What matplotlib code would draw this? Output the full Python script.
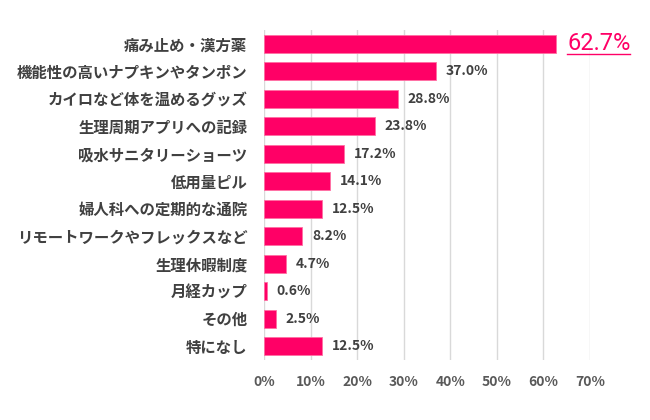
import matplotlib
matplotlib.use("Agg")
import matplotlib.pyplot as plt
from matplotlib.lines import Line2D

plt.rcParams['font.family'] = ['Noto Sans CJK JP', 'DejaVu Sans']

categories = ["痛み止め・漢方薬", "機能性の高いナプキンやタンポン", "カイロなど体を温めるグッズ",
              "生理周期アプリへの記録", "吸水サニタリーショーツ", "低用量ピル",
              "婦人科への定期的な通院", "リモートワークやフレックスなど", "生理休暇制度",
              "月経カップ", "その他", "特になし"]
values = [62.7, 37.0, 28.8, 23.8, 17.2, 14.1, 12.5, 8.2, 4.7, 0.6, 2.5, 12.5]
xticks = [0, 10, 20, 30, 40, 50, 60, 70]

bar_color = "#FF0066"
text_color = "#404040"

fig = plt.figure(figsize=(6.5, 4.2), dpi=100)
ax = fig.add_axes([264/650, 1-360/420, (590-264)/650, (360-30)/420])

y = list(range(len(categories)))
ax.barh(y, values, height=0.64, color=bar_color, edgecolor="#ff6fa3", linewidth=0.6, zorder=3)
ax.set_xlim(0, 70)
ax.set_ylim(len(categories)-0.5, -0.5)
ax.set_xticks(xticks)
ax.set_xticklabels([f"{t}%" for t in xticks], fontsize=10, fontweight='bold', color="#595959")
ax.set_yticks(y)
ax.set_yticklabels(categories, fontsize=11.1, fontweight='bold', color=text_color)
ax.tick_params(axis='both', length=0)
ax.tick_params(axis='y', pad=12)
ax.tick_params(axis='x', pad=11)
ax.grid(axis='x', color="#d9d9d9", linewidth=1.0, zorder=0)
for s in ax.spines.values():
    s.set_visible(False)

texts = []
for i, v in enumerate(values):
    if i == 0:
        t = ax.annotate(f"{v:.1f}%", (v, i), xytext=(8, 0), textcoords='offset points',
                        va='center', ha='left', fontsize=17, color=bar_color,
                        family=['Roboto', 'DejaVu Sans'])
        texts.append(t)
    else:
        ax.annotate(f"{v:.1f}%", (v, i), xytext=(7, 0), textcoords='offset points',
                    va='center', ha='left', fontsize=10, fontweight='bold', color=text_color)

fig.canvas.draw()
r = fig.canvas.get_renderer()
for t in texts:
    bb = t.get_window_extent(r)
    yline = bb.y0 + 1
    fig.add_artist(Line2D([bb.x0 / fig.bbox.width, bb.x1 / fig.bbox.width],
                          [yline / fig.bbox.height, yline / fig.bbox.height],
                          color=bar_color, linewidth=1.0, transform=fig.transFigure))

fig.savefig("out.png", dpi=100, facecolor="white")
